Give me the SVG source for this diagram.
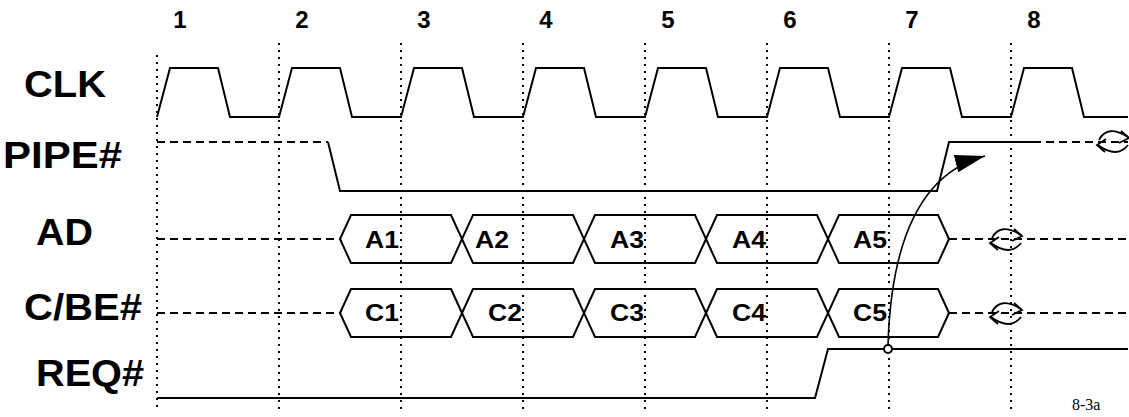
<svg xmlns="http://www.w3.org/2000/svg" width="1129" height="417" viewBox="0 0 1129 417">
<style>
.bg{fill:#fff}
.lbl{font-family:"Liberation Sans",Arial,sans-serif;font-weight:bold;font-size:36px;fill:#000}
.num{font-family:"Liberation Sans",Arial,sans-serif;font-weight:bold;font-size:24px;fill:#000;text-anchor:middle}
.val{font-family:"Liberation Sans",Arial,sans-serif;font-weight:bold;font-size:23px;fill:#000}
.note{font-family:"Liberation Serif","Times New Roman",serif;font-size:16px;fill:#000}
.grid{stroke:#000;stroke-width:2;stroke-dasharray:2 5;fill:none}
.wave{stroke:#000;stroke-width:2;fill:none;stroke-linejoin:miter}
.dash{stroke:#000;stroke-width:2;stroke-dasharray:8 5;fill:none}
.wrap{stroke:#000;stroke-width:1.8;fill:none}
.conn{stroke:#000;stroke-width:1.6;fill:none}
</style>
<defs>
<marker id="ah" markerUnits="userSpaceOnUse" markerWidth="32" markerHeight="20" refX="30" refY="9" orient="auto">
<path d="M0,0 L30,9 L0,18 z" fill="#000"/>
</marker>
<g id="wrapsym" class="wrap">
<path d="M-14,-1 Q-6,-17 15,-4"/>
<path d="M8,-10 L16,-3 L6,2"/>
<path d="M15,4 Q4,18 -15,4"/>
<path d="M-7,-2 L-16,4 L-8,11"/>
</g>
<g id="bus" class="wave">
<path d="M340,0 L351,-24 L451,-24 L473,24 L573,24 L595,-24 L695,-24 L717,24 L817,24 L839,-24 L938,-24 L949,0"/>
<path d="M340,0 L351,24 L451,24 L473,-24 L573,-24 L595,24 L695,24 L717,-24 L817,-24 L839,24 L938,24 L949,0"/>
<path class="dash" d="M157,0 H340 M949,0 H1128"/>
</g>
</defs>
<rect class="bg" x="0" y="0" width="1129" height="417"/>

<g id="grid">
<path class="grid" d="M157,55 V408 M279,43 V410 M401,43 V410 M523,43 V410 M645,43 V410 M767,43 V410 M889,43 V410 M1011,43 V410"/>
<text class="num" x="180" y="28">1</text>
<text class="num" x="302" y="28">2</text>
<text class="num" x="424" y="28">3</text>
<text class="num" x="546" y="28">4</text>
<text class="num" x="668" y="28">5</text>
<text class="num" x="790" y="28">6</text>
<text class="num" x="912" y="28">7</text>
<text class="num" x="1034" y="28">8</text>
</g>

<g id="clk">
<text class="lbl" x="24" y="97" textLength="82" lengthAdjust="spacingAndGlyphs">CLK</text>
<path class="wave" d="M157,117 L170,68 L218,68 L230,117 L279,117 L292,68 L340,68 L352,117 L401,117 L414,68 L462,68 L474,117 L523,117 L536,68 L584,68 L596,117 L645,117 L658,68 L706,68 L718,117 L767,117 L780,68 L828,68 L840,117 L889,117 L902,68 L950,68 L962,117 L1011,117 L1024,68 L1072,68 L1084,117 L1128,117"/>
</g>

<g id="pipe">
<text class="lbl" x="3" y="168" textLength="119" lengthAdjust="spacingAndGlyphs">PIPE#</text>
<path class="dash" d="M157,142 H328"/>
<path class="wave" d="M328,142 L340,191 L937,191 L949,142 L1033,142"/>
<path class="dash" d="M1033,142 H1128"/>
<use href="#wrapsym" transform="translate(1113,141)"/>
</g>

<g id="ad">
<text class="lbl" x="36" y="245" textLength="57" lengthAdjust="spacingAndGlyphs">AD</text>
<use href="#bus" transform="translate(0,239)"/>
<text class="val" x="365" y="248" textLength="34" lengthAdjust="spacingAndGlyphs">A1</text>
<text class="val" x="475" y="248" textLength="34" lengthAdjust="spacingAndGlyphs">A2</text>
<text class="val" x="610" y="248" textLength="34" lengthAdjust="spacingAndGlyphs">A3</text>
<text class="val" x="732" y="248" textLength="34" lengthAdjust="spacingAndGlyphs">A4</text>
<text class="val" x="853" y="248" textLength="34" lengthAdjust="spacingAndGlyphs">A5</text>
<use href="#wrapsym" transform="translate(1006,239)"/>
</g>

<g id="cbe">
<text class="lbl" x="24" y="320" textLength="118" lengthAdjust="spacingAndGlyphs">C/BE#</text>
<use href="#bus" transform="translate(0,313)"/>
<text class="val" x="365" y="321" textLength="34" lengthAdjust="spacingAndGlyphs">C1</text>
<text class="val" x="488" y="321" textLength="34" lengthAdjust="spacingAndGlyphs">C2</text>
<text class="val" x="610" y="321" textLength="34" lengthAdjust="spacingAndGlyphs">C3</text>
<text class="val" x="732" y="321" textLength="34" lengthAdjust="spacingAndGlyphs">C4</text>
<text class="val" x="853" y="321" textLength="34" lengthAdjust="spacingAndGlyphs">C5</text>
<use href="#wrapsym" transform="translate(1006,313)"/>
</g>

<g id="req">
<text class="lbl" x="36" y="386" textLength="108" lengthAdjust="spacingAndGlyphs">REQ#</text>
<path class="wave" d="M157,398 L815,398 L828,349 L1128,349"/>
</g>

<g id="connectors">
<path class="conn" d="M888,345 Q893,180 985,156" marker-end="url(#ah)"/>
<circle cx="888" cy="349" r="4" fill="#fff" stroke="#000" stroke-width="2"/>
</g>

<text class="note" x="1072" y="410">8-3a</text>
</svg>
